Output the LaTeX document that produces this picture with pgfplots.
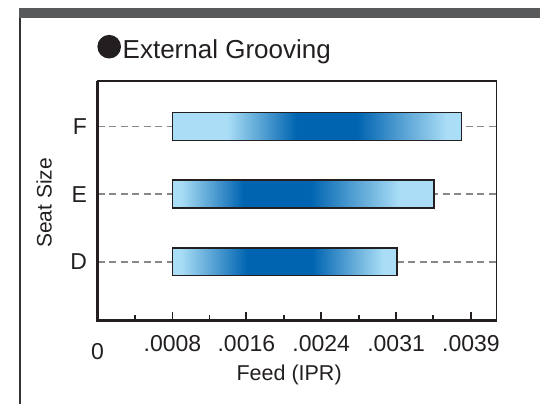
\documentclass[border=0pt]{standalone}
\usepackage{fontspec}
\setmainfont{Liberation Sans}
\usepackage{pgfplots}
\pgfplotsset{compat=1.18}

\definecolor{lb}{RGB}{170,222,246}
\definecolor{db}{RGB}{0,100,177}
\definecolor{band}{RGB}{88,89,91}
\definecolor{ink}{RGB}{35,31,32}
\definecolor{dashgray}{RGB}{136,136,136}

% light - dark - light gradients, path spans 25bp..75bp of the shading
\pgfdeclarehorizontalshading{shF}{100bp}{color(0bp)=(lb); color(34.4bp)=(lb); color(46.5bp)=(db); color(56.9bp)=(db); color(72.5bp)=(lb); color(100bp)=(lb)}
\pgfdeclarehorizontalshading{shE}{100bp}{color(0bp)=(lb); color(26.5bp)=(lb); color(38.6bp)=(db); color(51.3bp)=(db); color(68.5bp)=(lb); color(100bp)=(lb)}
\pgfdeclarehorizontalshading{shD}{100bp}{color(0bp)=(lb); color(26.7bp)=(lb); color(41.6bp)=(db); color(56.1bp)=(db); color(72bp)=(lb); color(100bp)=(lb)}

\begin{document}
\begin{tikzpicture}
\path[use as bounding box] (0pt,0pt) rectangle (540pt,-404pt);
\fill[band] (19pt,-8.3pt) rectangle (540pt,-18.3pt);
\draw[line width=2pt, black!80] (20pt,-18.3pt) -- (20pt,-404pt);
\fill[ink] (109.2pt,-46.7pt) circle (11.8pt);
\node[anchor=base west, inner sep=0pt, font=\fontsize{26}{28}\selectfont, text=ink] at (122.5pt,-58.3pt) {External Grooving};

\begin{axis}[
    at={(97.6pt,-320.3pt)}, anchor=south west,
    width=399pt, height=239.4pt, scale only axis,
    clip=false,
    xmin=0, xmax=0.004211,
    ymin=0.133, ymax=3.675,
    scaled x ticks=false,
    xtick={0.00079,0.00157,0.00236,0.00315,0.00394},
    xticklabels={.0008,.0016,.0024,.0031,.0039},
    minor xtick={0.000394,0.00118,0.00197,0.00276,0.00354},
    extra x ticks={0},
    extra x tick labels={0},
    extra x tick style={xticklabel style={yshift=-8pt}},
    ytick={1,2,3},
    yticklabels={D,E,F},
    xtick pos=bottom, ytick pos=left,
    major tick length=8pt, minor tick length=5pt,
    tick style={ink, line width=1.8pt},
    ytick style={draw=none},
    axis line style={ink, line width=1.2pt},
    xticklabel style={anchor=north, inner sep=0pt, yshift=-14.7pt, font=\fontsize{23}{25}\selectfont, text=ink},
    yticklabel style={anchor=east, inner sep=0pt, xshift=-10.5pt, font=\fontsize{23}{25}\selectfont, text=ink},
    ymajorgrids,
    y grid style={dashgray, line width=1.8pt, dash pattern=on 7pt off 4.5pt},
    xlabel={Feed (IPR)},
    ylabel={Seat Size},
    xlabel style={at={(axis description cs:0.48,-0.2285)}, anchor=center, font=\fontsize{21.5}{24}\selectfont, text=ink},
    ylabel style={at={(axis description cs:-0.1343,0.49)}, anchor=center, font=\fontsize{21}{24}\selectfont, text=ink},
]
\addplot[draw=ink, line width=1.6pt, shade, shading=shD]
    coordinates {(0.00079,0.793) (0.00316,0.793) (0.00316,1.207) (0.00079,1.207)} -- cycle;
\addplot[draw=ink, line width=1.6pt, shade, shading=shE]
    coordinates {(0.00079,1.793) (0.00355,1.793) (0.00355,2.207) (0.00079,2.207)} -- cycle;
\addplot[draw=ink, line width=1.6pt, shade, shading=shF]
    coordinates {(0.00079,2.793) (0.00384,2.793) (0.00384,3.207) (0.00079,3.207)} -- cycle;
\draw[ink, line width=2.8pt] (rel axis cs:0,1) -- (rel axis cs:0,0) -- (rel axis cs:1,0);
\end{axis}
\end{tikzpicture}
\end{document}
